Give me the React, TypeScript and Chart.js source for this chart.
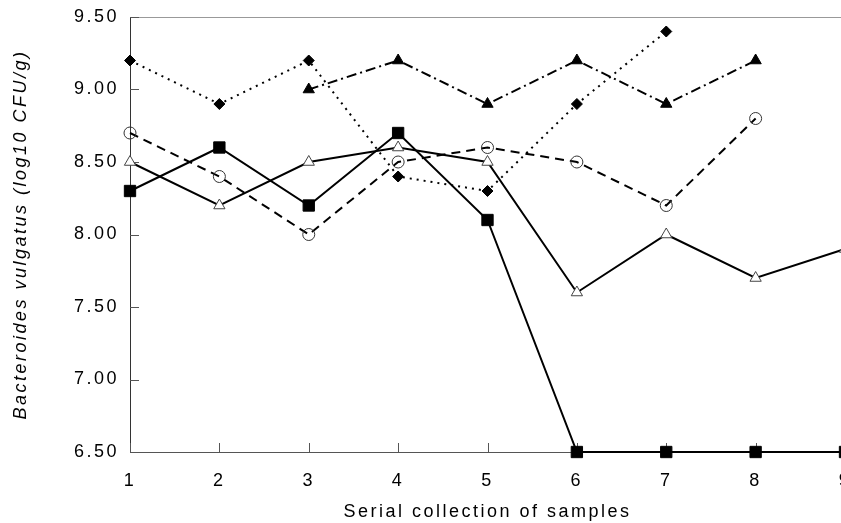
import React, { useEffect, useRef } from "react";
import { Chart, registerables } from "chart.js";

Chart.register(...registerables);

const xValues = [1, 2, 3, 4, 5, 6, 7, 8, 9];
const yTicks = [6.5, 7.0, 7.5, 8.0, 8.5, 9.0, 9.5];
const diamondSeries = [9.2, 8.9, 9.2, 8.4, 8.3, 8.9, 9.4, null, null];
const filledTriangleSeries = [null, null, 9.0, 9.2, 8.9, 9.2, 8.9, 9.2, null];
const openCircleSeries = [8.7, 8.4, 8.0, 8.5, 8.6, 8.5, 8.2, 8.8, null];
const openTriangleSeries = [8.5, 8.2, 8.5, 8.6, 8.5, 7.6, 8.0, 7.7, 7.9];
const squareSeries = [8.3, 8.6, 8.2, 8.7, 8.1, 6.5, 6.5, 6.5, 6.5];

const FONT = "'Liberation Sans', Arial, Helvetica, sans-serif";

const toPoints = (arr: (number | null)[]) =>
  xValues.map((x, i) => ({ x, y: arr[i] }));

const framePlugin = {
  id: "frame",
  beforeDraw(chart: any) {
    chart.ctx.letterSpacing = "2.5px";
  },
  beforeDatasetsDraw(chart: any) {
    const { ctx, chartArea } = chart;
    const xs = chart.scales.x;
    const ys = chart.scales.y;
    ctx.save();
    ctx.lineWidth = 1;
    // top border
    ctx.strokeStyle = "#999";
    ctx.beginPath();
    ctx.moveTo(chartArea.left, chartArea.top + 0.5);
    ctx.lineTo(chart.width, chartArea.top + 0.5);
    ctx.stroke();
    // left axis
    ctx.strokeStyle = "#333";
    ctx.beginPath();
    ctx.moveTo(chartArea.left + 0.5, chartArea.top);
    ctx.lineTo(chartArea.left + 0.5, chartArea.bottom);
    ctx.stroke();
    // bottom axis
    ctx.strokeStyle = "#555";
    ctx.beginPath();
    ctx.moveTo(chartArea.left, chartArea.bottom + 0.5);
    ctx.lineTo(chart.width, chartArea.bottom + 0.5);
    ctx.stroke();
    // y ticks (inward)
    ctx.strokeStyle = "#555";
    yTicks.forEach((v) => {
      const py = Math.round(ys.getPixelForValue(v)) + 0.5;
      ctx.beginPath();
      ctx.moveTo(chartArea.left, py);
      ctx.lineTo(chartArea.left + 9, py);
      ctx.stroke();
    });
    // x ticks (inward)
    xValues.forEach((v) => {
      const px = Math.round(xs.getPixelForValue(v)) + 0.5;
      ctx.beginPath();
      ctx.moveTo(px, chartArea.bottom);
      ctx.lineTo(px, chartArea.bottom - 9);
      ctx.stroke();
    });
    ctx.restore();
  },
};

const zeroPadding = (scale: any) => {
  scale.paddingTop = 0;
  scale.paddingBottom = 0;
  scale.paddingLeft = 0;
  scale.paddingRight = 0;
};

export default function App() {
  const ref = useRef<HTMLCanvasElement | null>(null);

  useEffect(() => {
    if (!ref.current) return;
    const chart = new Chart(ref.current, {
      type: "line",
      data: {
        datasets: [
          {
            label: "diamond",
            data: toPoints(diamondSeries),
            borderColor: "#000",
            borderWidth: 2,
            borderDash: [2, 5],
            pointStyle: "rectRot",
            pointRadius: 5.5,
            pointBackgroundColor: "#000",
            pointBorderColor: "#000",
            pointBorderWidth: 1,
            clip: false,
          } as any,
          {
            label: "filled triangle",
            data: toPoints(filledTriangleSeries),
            borderColor: "#000",
            borderWidth: 2,
            borderDash: [10, 4, 2, 4],
            pointStyle: "triangle",
            pointRadius: 6.5,
            pointBackgroundColor: "#000",
            pointBorderColor: "#000",
            pointBorderWidth: 1,
            clip: false,
          },
          {
            label: "open circle",
            data: toPoints(openCircleSeries),
            borderColor: "#000",
            borderWidth: 2,
            borderDash: [9, 6],
            pointStyle: "circle",
            pointRadius: 6,
            pointBackgroundColor: "rgba(0,0,0,0)",
            pointBorderColor: "#333",
            pointBorderWidth: 1,
            clip: false,
          },
          {
            label: "open triangle",
            data: toPoints(openTriangleSeries),
            borderColor: "#000",
            borderWidth: 2,
            pointStyle: "triangle",
            pointRadius: 6.5,
            pointBackgroundColor: "#fff",
            pointBorderColor: "#444",
            pointBorderWidth: 1,
            clip: false,
          },
          {
            label: "square",
            data: toPoints(squareSeries),
            borderColor: "#000",
            borderWidth: 2,
            pointStyle: "rect",
            pointRadius: 8,
            pointBackgroundColor: "#000",
            pointBorderColor: "#000",
            pointBorderWidth: 1,
            clip: false,
          },
        ],
      },
      options: {
        animation: false,
        responsive: false,
        layout: { autoPadding: false, padding: { top: 17, right: 5, left: 0, bottom: 0 } },
        plugins: {
          legend: { display: false },
          tooltip: { enabled: false },
        },
        elements: { line: { tension: 0 } },
        scales: {
          x: {
            type: "linear",
            min: 1,
            max: 9,
            grid: { display: false, drawTicks: false },
            border: { display: false },
            ticks: {
              stepSize: 1,
              padding: 18,
              color: "#000",
              font: { family: FONT, size: 18 },
              maxRotation: 0,
              autoSkip: false,
            },
            title: {
              display: true,
              text: "Serial collection of samples",
              color: "#000",
              font: { family: FONT, size: 18 },
              padding: { top: 0, bottom: 0 },
            },
            afterFit(scale: any) {
              scale.height = 71;
              zeroPadding(scale);
            },
          },
          y: {
            type: "linear",
            min: 6.5,
            max: 9.5,
            grid: { display: false, drawTicks: false },
            border: { display: false },
            ticks: {
              stepSize: 0.5,
              padding: 11,
              color: "#000",
              font: { family: FONT, size: 18 },
              callback: (v: any) => Number(v).toFixed(2),
            },
            title: {
              display: true,
              text: "Bacteroides vulgatus (log10 CFU/g)",
              color: "#000",
              font: { family: FONT, size: 18, style: "italic" },
              padding: { top: 10, bottom: 0 },
            },
            afterFit(scale: any) {
              scale.width = 130;
              zeroPadding(scale);
            },
          },
        },
      } as any,
      plugins: [framePlugin],
    });
    return () => chart.destroy();
  }, []);

  return (
    <div
      style={{
        position: "absolute",
        left: 0,
        top: 0,
        width: 841,
        height: 523,
        overflow: "hidden",
        background: "#fff",
      }}
    >
      <canvas ref={ref} width={850} height={523} style={{ display: "block" }} />
    </div>
  );
}
